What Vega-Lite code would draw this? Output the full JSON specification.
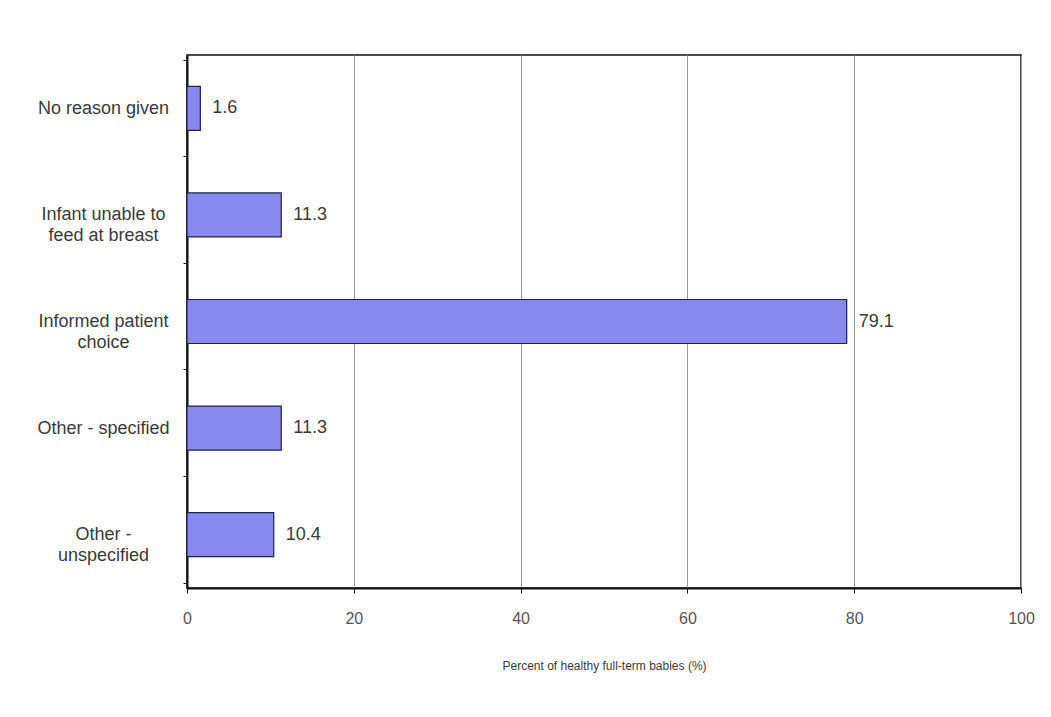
{
  "$schema": "https://vega.github.io/schema/vega-lite/v6.json",
  "autosize": "none",
  "width": 834,
  "height": 533,
  "padding": {"left": 187, "top": 55, "right": 30, "bottom": 129},
  "background": "white",
  "config": {
    "font": "Liberation Sans",
    "view": {"stroke": "#111111", "strokeWidth": 1.5}
  },
  "data": {
    "values": [
      {"reason": "No reason given", "percent": 1.6, "label": "1.6"},
      {"reason": "Infant unable to|feed at breast", "percent": 11.3, "label": "11.3"},
      {"reason": "Informed patient|choice", "percent": 79.1, "label": "79.1"},
      {"reason": "Other - specified", "percent": 11.3, "label": "11.3"},
      {"reason": "Other -|unspecified", "percent": 10.4, "label": "10.4"}
    ]
  },
  "encoding": {
    "y": {
      "field": "reason",
      "type": "nominal",
      "sort": null,
      "title": null,
      "axis": {
        "labelExpr": "split(datum.label, '|')",
        "labelAlign": "center",
        "labelPadding": 80,
        "labelFontSize": 18,
        "labelColor": "#3a3a3a",
        "labelLineHeight": 21,
        "tickBand": "extent",
        "tickSize": 4,
        "tickColor": "#111111",
        "domainColor": "#111111",
        "domainWidth": 2,
        "grid": false
      }
    },
    "x": {
      "field": "percent",
      "type": "quantitative",
      "scale": {"domain": [0, 100], "nice": false},
      "title": "Percent of healthy full-term babies (%)",
      "axis": {
        "values": [0, 20, 40, 60, 80, 100],
        "labelFontSize": 16,
        "labelColor": "#555555",
        "labelPadding": 17,
        "labelFlush": false,
        "tickSize": 5,
        "tickColor": "#111111",
        "domainColor": "#111111",
        "domainWidth": 2,
        "grid": true,
        "gridColor": "#999999",
        "gridWidth": 1,
        "titleFontSize": 12,
        "titleFontWeight": "normal",
        "titleColor": "#3a3a3a",
        "titlePadding": 34
      }
    }
  },
  "layer": [
    {
      "mark": {"type": "bar", "size": 44, "fill": "#8888ee", "stroke": "#1e1e5a", "strokeWidth": 1.2}
    },
    {
      "mark": {"type": "text", "align": "left", "dx": 12, "fontSize": 18, "color": "#3a3a3a"},
      "encoding": {"text": {"field": "label"}}
    }
  ]
}
